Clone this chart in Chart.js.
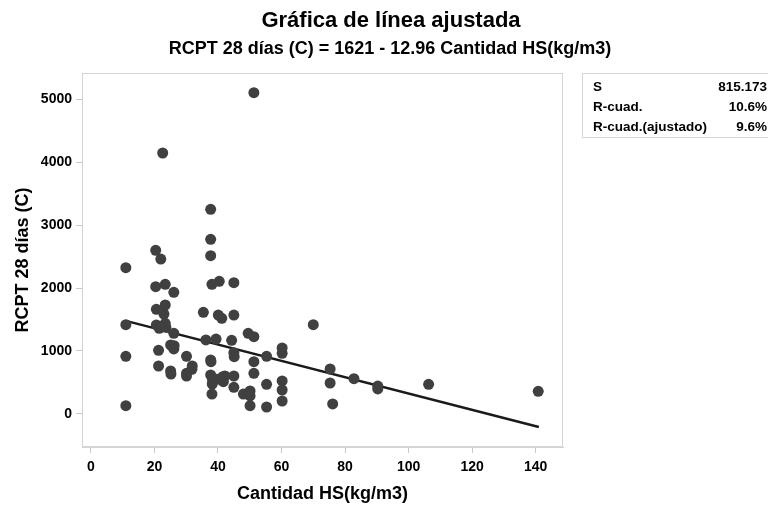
<!DOCTYPE html>
<html>
<head>
<meta charset="utf-8">
<script src="https://cdn.jsdelivr.net/npm/chart.js@4.4.1/dist/chart.umd.min.js"></script>
<style>
  html, body { margin: 0; padding: 0; background: #fff; }
  #wrap { width: 768px; height: 505px; }
</style>
</head>
<body>
<div id="wrap"><canvas id="chart" width="768" height="505"></canvas></div>
<script>
// Cantidad HS (kg/m3) vs RCPT 28 días (C)
const hsValues = [
  51.3, 22.6, 37.7, 37.7, 20.4, 22.0, 37.7, 11.0,
  20.4, 23.4, 26.1, 38.1, 40.4, 45.0, 20.6, 23.4, 23.0, 35.4, 40.1, 41.2, 45.0,
  11.0, 20.6, 21.5, 23.4, 23.6, 26.1, 36.2, 39.4, 44.3, 49.5, 51.3, 70.0,
  25.1, 26.2, 26.1, 21.3, 45.0, 45.1, 55.3, 60.2, 60.2, 30.1, 11.0,
  37.7, 37.8, 51.3, 31.9, 31.8, 21.3, 25.1, 25.2, 30.1, 30.1, 51.3, 37.7, 45.0,
  38.3, 39.6, 41.5, 42.2, 41.7, 38.2, 55.3, 60.2, 60.2, 45.0, 48.0, 50.1, 50.1,
  38.1, 60.2, 50.1, 55.3, 11.0,
  75.3, 75.3, 76.1, 82.8, 90.3, 90.3, 106.3, 140.8
];
const rcptValues = [
  5100, 4143, 3249, 2773, 2598, 2460, 2513, 2323,
  2021, 2059, 1931, 2059, 2106, 2084, 1661, 1730, 1587, 1614, 1571, 1519, 1571,
  1418, 1413, 1360, 1440, 1376, 1281, 1175, 1190, 1170, 1281, 1227, 1418,
  1095, 1084, 1032, 1011, 973, 910, 916, 1048, 963, 916, 916,
  857, 830, 830, 762, 709, 762, 683, 635, 646, 603, 646, 619, 603,
  540, 550, 592, 603, 513, 476, 471, 524, 381, 424, 317, 365, 286,
  317, 206, 132, 111, 132,
  714, 492, 159, 560, 444, 397, 471, 360
];

// fitted line end points
const fitX = [11, 141];
const fitY = [1478, -206];

const xTicks = [0, 20, 40, 60, 80, 100, 120, 140];
const yTicks = [0, 1000, 2000, 3000, 4000, 5000];

const titleText = 'Gráfica de línea ajustada';
const subtitleText = 'RCPT 28 días (C) = 1621 - 12.96 Cantidad HS(kg/m3)';
const statLabels = ['S', 'R-cuad.', 'R-cuad.(ajustado)'];
const statValues = ['815.173', '10.6%', '9.6%'];

const FONT = '"Liberation Sans", Arial, sans-serif';

const points = hsValues.map((x, i) => ({ x: x, y: rcptValues[i] }));
const fitPoints = fitX.map((x, i) => ({ x: x, y: fitY[i] }));

// titles, frame and stats box
const extras = {
  id: 'extras',
  beforeDatasetsDraw(chart) {
    const c = chart.ctx, a = chart.chartArea;
    c.save();
    c.strokeStyle = '#d4d4d4';
    c.lineWidth = 1;
    c.strokeRect(a.left + 0.5, a.top + 0.5, a.right - a.left - 1, a.bottom - a.top - 1);
    c.restore();
  },
  afterDraw(chart) {
    const c = chart.ctx;
    c.save();
    c.fillStyle = '#000';
    c.textAlign = 'center';
    c.textBaseline = 'alphabetic';
    c.font = 'bold 22px ' + FONT;
    c.fillText(titleText, 391, 27);
    c.font = 'bold 18px ' + FONT;
    c.fillText(subtitleText, 390, 54);

    // stats box
    c.strokeStyle = '#d4d4d4';
    c.lineWidth = 1;
    c.strokeRect(582.5, 73.5, 200, 64);
    c.font = 'bold 13.5px ' + FONT;
    c.textBaseline = 'middle';
    const rowsY = [87, 107, 127];
    statLabels.forEach((lbl, i) => {
      c.textAlign = 'left';
      c.fillText(lbl, 593, rowsY[i]);
      c.textAlign = 'right';
      c.fillText(statValues[i], 767, rowsY[i]);
    });
    c.restore();
  }
};

new Chart(document.getElementById('chart'), {
  type: 'scatter',
  data: {
    datasets: [
      {
        label: 'RCPT',
        data: points,
        backgroundColor: '#404040',
        borderColor: '#404040',
        pointRadius: 5.5,
        pointHoverRadius: 5.5,
        borderWidth: 0
      },
      {
        type: 'line',
        label: 'Ajuste',
        data: fitPoints,
        borderColor: '#1a1a1a',
        borderWidth: 2.5,
        pointRadius: 0,
        fill: false,
        tension: 0
      }
    ]
  },
  plugins: [extras],
  options: {
    responsive: false,
    animation: false,
    layout: { padding: { left: 0, right: 205, top: 73, bottom: 0 } },
    plugins: {
      legend: { display: false },
      tooltip: { enabled: false }
    },
    scales: {
      x: {
        type: 'linear',
        min: -2.8,
        max: 148.6,
        afterBuildTicks: s => { s.ticks = xTicks.map(v => ({ value: v })); },
        afterFit: s => { s.height = 58; },
        grid: { drawOnChartArea: false, color: '#c8c8c8', tickLength: 6 },
        border: { color: '#d4d4d4' },
        ticks: { color: '#000', font: { family: FONT, size: 14, weight: 'bold' }, padding: 6, maxRotation: 0, callback: v => String(v) },
        title: { display: true, text: 'Cantidad HS(kg/m3)', color: '#000', font: { family: FONT, size: 18, weight: 'bold' }, padding: { top: 2, bottom: 0 } }
      },
      y: {
        type: 'linear',
        min: -524,
        max: 5413,
        afterBuildTicks: s => { s.ticks = yTicks.map(v => ({ value: v })); },
        afterFit: s => { s.width = 82; },
        grid: { drawOnChartArea: false, color: '#c8c8c8', tickLength: 6 },
        border: { color: '#d4d4d4' },
        ticks: { color: '#000', font: { family: FONT, size: 14, weight: 'bold' }, padding: 4, callback: v => String(v) },
        title: { display: true, text: 'RCPT 28 días (C)', color: '#000', font: { family: FONT, size: 18, weight: 'bold' }, padding: { top: 12, bottom: 0 } }
      }
    }
  }
});
</script>
</body>
</html>
